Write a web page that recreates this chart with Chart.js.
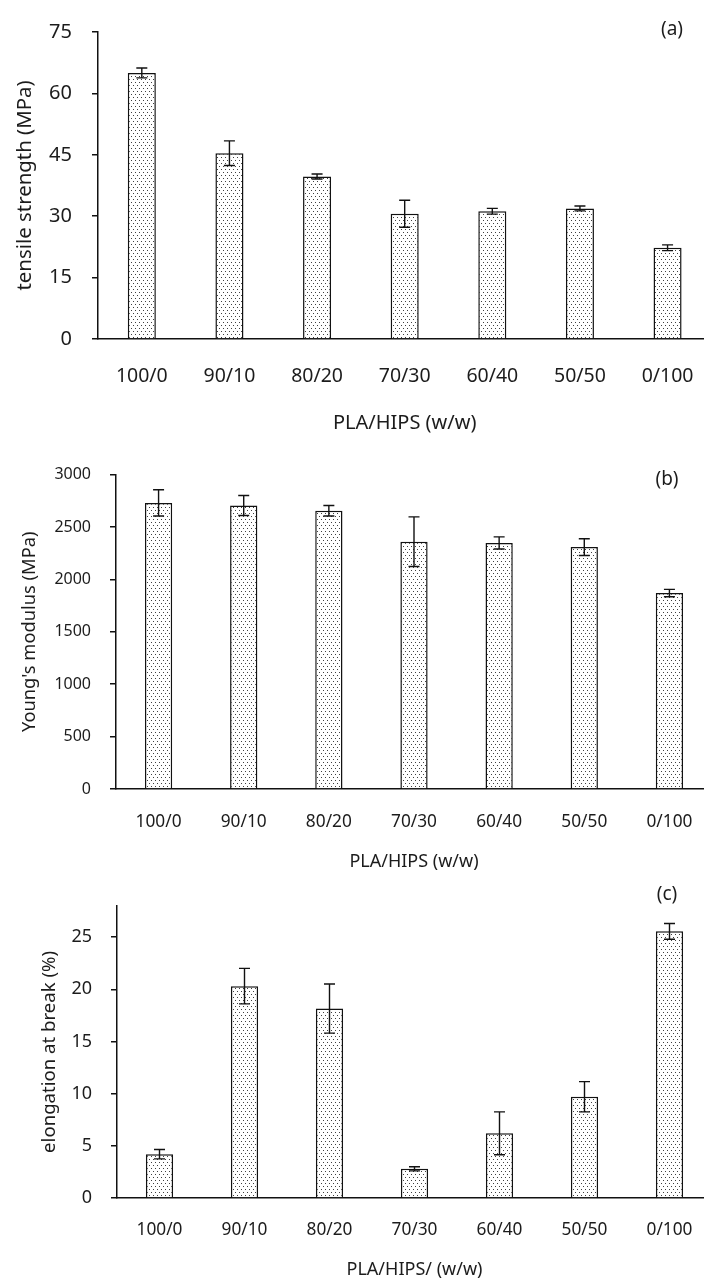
<!DOCTYPE html>
<html lang="en">
<head>
  <meta charset="UTF-8">
  <title>PLA/HIPS blends – tensile properties</title>
  <script src="https://cdn.jsdelivr.net/npm/chart.js"></script>
  <style>
    html, body { margin: 0; padding: 0; background: #fff; overflow: hidden; }
    .panel { width: 704px; overflow: hidden; }
    canvas { display: block; }
  </style>
</head>
<body>
  <div class="panel"><canvas id="tensileChart" width="720" height="446"></canvas></div>
  <div class="panel"><canvas id="modulusChart" width="720" height="430"></canvas></div>
  <div class="panel"><canvas id="elongationChart" width="720" height="406"></canvas></div>

  <script>
    // blend ratios on the x axis
    const blends = ['100/0', '90/10', '80/20', '70/30', '60/40', '50/50', '0/100'];

    // (a) tensile strength, MPa
    const tensile = [65.0, 45.4, 39.7, 30.6, 31.2, 31.9, 22.3];
    const tensileErr = [1.2, 3.0, 0.6, 3.3, 0.7, 0.6, 0.7];

    // (b) Young's modulus, MPa
    const modulus = [2730, 2705, 2655, 2360, 2348, 2308, 1870];
    const modulusErr = [125, 95, 50, 237, 58, 80, 35];

    // (c) elongation at break, %
    const elongation = [4.2, 20.3, 18.15, 2.8, 6.2, 9.7, 25.55];
    const elongationErr = [0.45, 1.7, 2.35, 0.2, 2.05, 1.45, 0.75];

    const FONT = "'Noto Sans', 'DejaVu Sans', sans-serif";
    const INK = '#1c1c1c';

    // dotted fill used for every bar
    function dotPattern() {
      const c = document.createElement('canvas');
      c.width = 4; c.height = 6;
      const g = c.getContext('2d');
      g.fillStyle = '#fff';
      g.fillRect(0, 0, 4, 6);
      g.fillStyle = '#404040';
      g.fillRect(1, 1, 1, 1);
      g.fillRect(3, 4, 1, 1);
      return g.createPattern(c, 'repeat');
    }

    // draws ± error bars over each bar
    const errorBars = {
      id: 'errorBars',
      afterDatasetsDraw(chart) {
        const ctx = chart.ctx;
        const y = chart.scales.y;
        chart.data.datasets.forEach((ds, i) => {
          const meta = chart.getDatasetMeta(i);
          meta.data.forEach((bar, j) => {
            const v = ds.data[j], e = ds.errors[j];
            const top = y.getPixelForValue(v + e);
            const bot = y.getPixelForValue(v - e);
            ctx.save();
            ctx.strokeStyle = '#111';
            ctx.lineWidth = 1.4;
            ctx.beginPath();
            ctx.moveTo(bar.x, top); ctx.lineTo(bar.x, bot);
            ctx.moveTo(bar.x - 5.5, top); ctx.lineTo(bar.x + 5.5, top);
            ctx.moveTo(bar.x - 5.5, bot); ctx.lineTo(bar.x + 5.5, bot);
            ctx.stroke();
            ctx.restore();
          });
        });
      }
    };

    // small (a)/(b)/(c) tag in the corner
    const panelTag = {
      id: 'panelTag',
      afterDraw(chart, args, opts) {
        const ctx = chart.ctx;
        ctx.save();
        ctx.font = opts.size + 'px ' + FONT;
        ctx.fillStyle = INK;
        ctx.textAlign = 'center';
        ctx.textBaseline = 'middle';
        ctx.fillText(opts.text, opts.x, opts.y);
        ctx.restore();
      }
    };

    function makePanel(id, p) {
      return new Chart(document.getElementById(id), {
        type: 'bar',
        data: {
          labels: blends,
          datasets: [{
            data: p.values,
            errors: p.errors,
            backgroundColor: dotPattern(),
            borderColor: '#111',
            borderWidth: 1.5,
            barPercentage: 0.32,
            categoryPercentage: 1
          }]
        },
        options: {
          responsive: false,
          animation: false,
          layout: { padding: p.padding },
          plugins: {
            legend: { display: false },
            tooltip: { enabled: false },
            panelTag: p.tag
          },
          scales: {
            x: {
              grid: { display: false, drawTicks: false, tickLength: 0 },
              border: { color: '#111', width: 1.5 },
              ticks: { color: INK, padding: p.xPad, maxRotation: 0, autoSkip: false,
                       font: { family: FONT, size: p.xFont } },
              title: { display: true, text: p.xTitle, color: INK, padding: { top: 0, bottom: 0 },
                       font: { family: FONT, size: p.xTitleFont } },
              afterFit: s => { s.height = p.xHeight; }
            },
            y: {
              min: 0,
              max: p.max,
              afterBuildTicks: s => { s.ticks = s.ticks.filter(t => t.value % p.step === 0); },
              grid: { drawOnChartArea: false, drawTicks: true, tickLength: 6, color: '#111', lineWidth: 1.5 },
              border: { color: '#111', width: 1.5 },
              ticks: { stepSize: p.step, color: INK, padding: p.yPad,
                       font: { family: FONT, size: p.yFont },
                       callback: v => String(v) },
              title: { display: true, text: p.yTitle, color: INK, padding: { top: p.yTitlePad, bottom: 0 },
                       font: { family: FONT, size: p.yTitleFont } },
              afterFit: s => { s.width = p.yWidth; }
            }
          }
        },
        plugins: [errorBars, panelTag]
      });
    }

    makePanel('tensileChart', {
      values: tensile, errors: tensileErr, max: 75, step: 15,
      padding: { top: 27, left: 0, right: 7, bottom: 11 },
      yWidth: 98, yPad: 20, yFont: 20, yTitle: 'tensile strength (MPa)', yTitleFont: 20.4, yTitlePad: 13,
      xHeight: 96, xPad: 26, xFont: 19.5, xTitle: 'PLA/HIPS (w/w)', xTitleFont: 20,
      tag: { text: '(a)', x: 672, y: 30, size: 19 }
    });

    makePanel('modulusChart', {
      values: modulus, errors: modulusErr, max: 3000, step: 500,
      padding: { top: 22, left: 0, right: 8, bottom: 3 },
      yWidth: 116, yPad: 19, yFont: 16, yTitle: "Young's modulus (MPa)", yTitleFont: 18.3, yTitlePad: 19,
      xHeight: 84, xPad: 23, xFont: 17.3, xTitle: 'PLA/HIPS (w/w)', xTitleFont: 18,
      tag: { text: '(b)', x: 667, y: 34, size: 19 }
    });

    makePanel('elongationChart', {
      values: elongation, errors: elongationErr, max: 28, step: 5,
      padding: { top: 29, left: 0, right: 8, bottom: 1 },
      yWidth: 117, yPad: 19, yFont: 18, yTitle: 'elongation at break (%)', yTitleFont: 18.6, yTitlePad: 39,
      xHeight: 83, xPad: 22, xFont: 17.3, xTitle: 'PLA/HIPS/ (w/w)', xTitleFont: 18,
      tag: { text: '(c)', x: 667, y: 19, size: 19 }
    });
  </script>
</body>
</html>
